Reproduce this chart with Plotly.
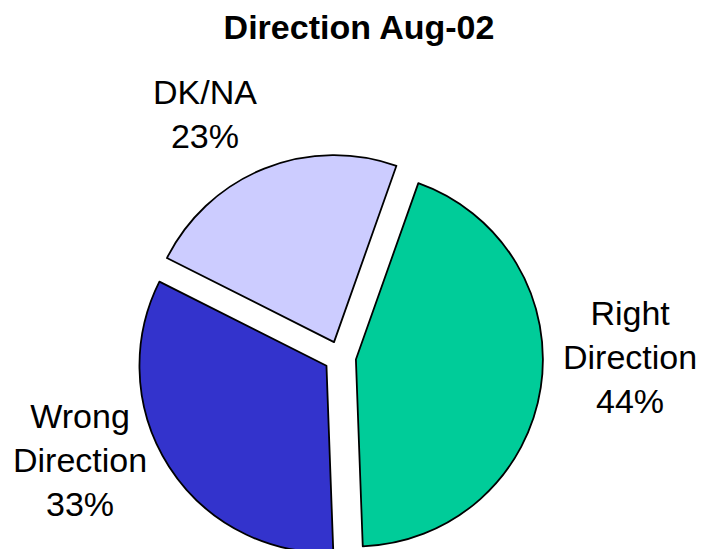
import plotly.graph_objects as go

# data
labels = ["Right<br>Direction", "Wrong<br>Direction", "DK/NA"]
values = [44, 33, 23]
colors = ["#00CC99", "#3333CC", "#CCCCFF"]

# page has an 8px body margin; figure runs a bit past the bottom of the
# window so the pie can be as large as in the reference (it is cut off there too)
W, H = 698, 562

# where each outside label sits (pixels inside the figure)
label_px = [(622, 349), (72, 452), (197, 106)]

title = "Direction Aug-02"
font_family = "Arial, Liberation Sans, sans-serif"

# pie centre, radius and pull, pixels inside the figure
cx, cy, radius = 332, 349, 187
pull = 0.086
half = radius * (1 + pull)

fig = go.Figure()

fig.add_trace(
    go.Pie(
        labels=labels,
        values=values,
        sort=False,
        direction="clockwise",
        rotation=19.5,
        pull=[pull] * len(values),
        marker=dict(colors=colors, line=dict(color="black", width=1.8)),
        textinfo="none",
        hoverinfo="label+percent",
        showlegend=False,
        domain=dict(
            x=[(cx - half) / W, (cx + half) / W],
            y=[max(0.0, 1 - (cy + half) / H), 1 - (cy - half) / H],
        ),
    )
)

total = sum(values)
for idx, label in enumerate(labels):
    pct = round(100 * values[idx] / total)
    fig.add_annotation(
        text=f"{label}<br>{pct}%",
        x=label_px[idx][0] / W,
        y=1 - label_px[idx][1] / H,
        xref="paper",
        yref="paper",
        xanchor="center",
        yanchor="middle",
        showarrow=False,
        font=dict(family=font_family, size=34, color="black"),
    )

fig.update_layout(
    title=dict(
        text=f"<b>{title}</b>",
        x=351 / W,
        xanchor="center",
        y=1 - 19 / H,
        yanchor="middle",
        yref="container",
        font=dict(family=font_family, size=34, color="black"),
    ),
    width=W,
    height=H,
    autosize=False,
    paper_bgcolor="white",
    plot_bgcolor="white",
    margin=dict(l=0, r=0, b=0, t=0, pad=0),
)

fig.write_html("out.html")
